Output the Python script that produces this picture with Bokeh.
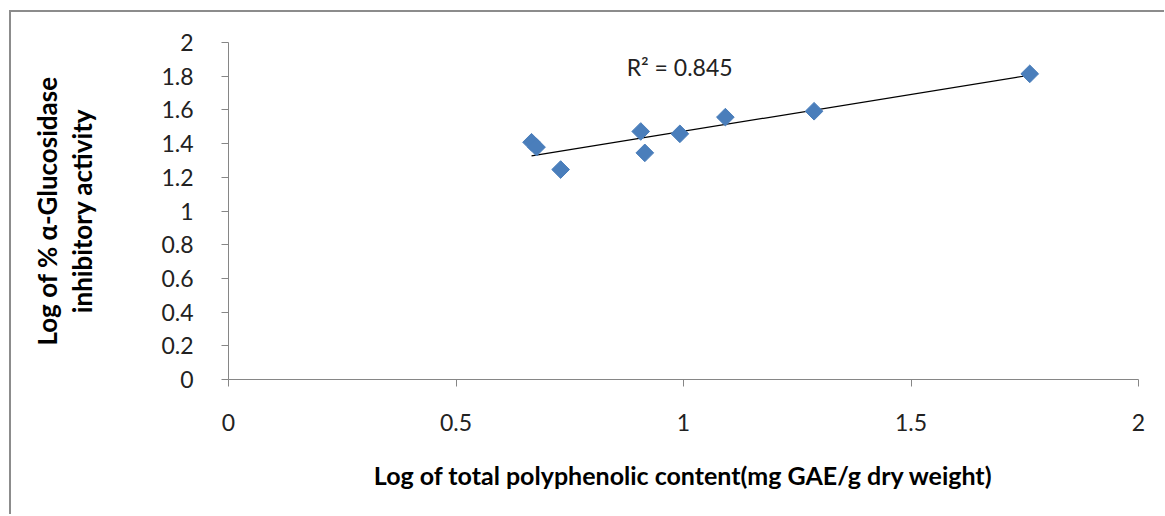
import numpy as np
from bokeh.plotting import figure
from bokeh.models import Range1d, Label, FixedTicker, ColumnDataSource
from bokeh.embed import file_html
from bokeh.resources import INLINE

# ---- data ----
log_polyphenol = [0.666, 0.677, 0.730, 0.906, 0.915, 0.992, 1.092, 1.287, 1.761]
log_inhibition = [1.408, 1.379, 1.246, 1.472, 1.345, 1.458, 1.557, 1.592, 1.814]
x_ticks = [0, 0.5, 1, 1.5, 2]
x_tick_labels = ["0", "0.5", "1", "1.5", "2"]
y_ticks = [0, 0.2, 0.4, 0.6, 0.8, 1, 1.2, 1.4, 1.6, 1.8, 2]
y_tick_labels = ["0", "0.2", "0.4", "0.6", "0.8", "1", "1.2", "1.4", "1.6", "1.8", "2"]
r2_text = "R\u00b2 = 0.845"
x_title = "Log of total polyphenolic content(mg GAE/g dry weight)"
y_title = "Log of % \u03b1-Glucosidase\ninhibitory activity"

FONT = "Lato"
AXIS_GREY = "#868686"

p = figure(width=1155, height=504, output_backend="svg", toolbar_location=None,
           x_range=Range1d(0, 2), y_range=Range1d(0, 2),
           min_border_left=217, min_border_right=28, min_border_top=30, min_border_bottom=137)
p.styles = {"border-left": "2px solid #8c8c8c", "border-top": "2px solid #8c8c8c",
            "margin-left": "9px", "margin-top": "10px"}
p.background_fill_color = "white"
p.border_fill_color = "white"
p.outline_line_color = None
p.grid.visible = False

# trend line from least squares fit of the data
slope, intercept = np.polyfit(log_polyphenol, log_inhibition, 1)
tx = [min(log_polyphenol), max(log_polyphenol)]
ty = [slope * v + intercept for v in tx]
p.line(tx, ty, line_color="black", line_width=1.2)

src = ColumnDataSource(dict(x=log_polyphenol, y=log_inhibition))
p.scatter("x", "y", source=src, marker="square", size=12.5, angle=np.pi / 4,
          fill_color="#4A7EBB", line_color="#4A7EBB")

p.add_layout(Label(x=0.875, y=1.852, text=r2_text, text_font=FONT, text_font_size="23px",
                   text_color="#222222", text_baseline="middle"))

# axes
for ax in (p.xaxis[0], p.yaxis[0]):
    ax.axis_line_color = AXIS_GREY
    ax.major_tick_line_color = AXIS_GREY
    ax.minor_tick_line_color = None
    ax.major_tick_in = 0
    ax.major_tick_out = 7
    ax.major_label_text_font = FONT
    ax.major_label_text_font_size = "23px"
    ax.major_label_text_color = "#222222"
    ax.axis_label_text_font = FONT
    ax.axis_label_text_font_style = "bold"
    ax.axis_label_text_color = "black"

p.xaxis[0].ticker = FixedTicker(ticks=x_ticks)
p.xaxis[0].major_label_overrides = {t: s for t, s in zip(x_ticks, x_tick_labels)}
p.xaxis[0].major_label_standoff = 27
p.xaxis[0].axis_label = x_title
p.xaxis[0].axis_label_text_font_size = "25px"
p.xaxis[0].axis_label_standoff = 26

p.yaxis[0].ticker = FixedTicker(ticks=y_ticks)
p.yaxis[0].major_label_overrides = {t: s for t, s in zip(y_ticks, y_tick_labels)}
p.yaxis[0].major_label_standoff = 28
p.yaxis[0].axis_label = y_title
p.yaxis[0].axis_label_text_font_size = "26px"
p.yaxis[0].axis_label_text_line_height = 1.1
p.yaxis[0].axis_label_standoff = 60

open("out.html", "w").write(file_html(p, INLINE))
